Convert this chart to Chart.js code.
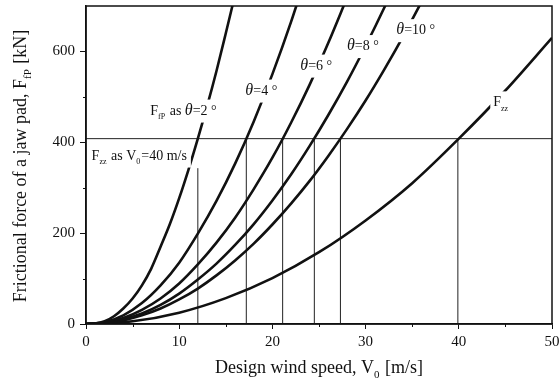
<!DOCTYPE html>
<html>
<head>
<meta charset="utf-8">
<script src="https://cdn.jsdelivr.net/npm/chart.js@4/dist/chart.umd.min.js"></script>
<style>
  html, body { margin: 0; padding: 0; background: #fff; }
  #wrap { width: 560px; height: 385px; }
</style>
</head>
<body>
<div id="wrap"><canvas id="chart" width="560" height="385"></canvas></div>
<script>
// Design wind speed V0 [m/s] and frictional force F [kN]
const speed2 = [0, 1, 2, 3, 4, 5, 6, 7, 8, 9, 10, 11, 12, 13, 14, 15, 16];
const force2 = [0, 1, 6, 17, 34, 56, 85, 122, 170, 220, 277, 340, 408, 480, 557, 640, 725];

const speed4 = [0, 2, 4, 6, 8, 10, 12, 14, 16, 18, 20, 22, 24];
const force4 = [0, 4, 19, 46, 85, 135, 199, 271, 353, 446, 550, 665, 792];

const speed6 = [0, 2, 4, 6, 8, 10, 12, 14, 16, 18, 20, 22, 24, 26, 28];
const force6 = [0, 3, 13, 31, 56, 89, 131, 179, 234, 297, 366, 443, 527, 619, 718];

const speed8 = [0, 2, 4, 6, 8, 10, 12, 14, 16, 18, 20, 22, 24, 26, 28, 30, 32, 34];
const force8 = [0, 2, 10, 23, 42, 67, 98, 133, 174, 220, 272, 329, 392, 460, 533, 612, 696, 786];

const speed10 = [0, 2, 4, 6, 8, 10, 12, 14, 16, 18, 20, 22, 24, 26, 28, 30, 32, 34, 36];
const force10 = [0, 2, 8, 19, 34, 54, 78, 107, 140, 177, 219, 265, 315, 370, 429, 492, 560, 632, 709];

const speedZZ = [0, 5, 10, 15, 20, 25, 30, 35, 40, 45, 50];
const forceZZ = [0, 6, 25, 57, 101, 158, 228, 310, 408, 514, 630];

// F_zz at V0 = 40 m/s, and the speeds where each curve reaches it
const limitForce = 408;
const limitSpeeds = [12.0, 17.2, 21.1, 24.5, 27.3, 39.9];
const limitTops = [343, 408, 408, 408, 408, 408];

const xTicks = [0, 10, 20, 30, 40, 50];
const yTicks = [0, 200, 400, 600];

const SERIF = '"Liberation Serif", "DejaVu Serif", serif';

function pts(xs, ys) {
    return xs.map((x, i) => ({ x: x, y: ys[i] }));
}

function curve(xs, ys) {
    return {
        data: pts(xs, ys),
        borderColor: '#111',
        borderWidth: 2.6,
        pointRadius: 0,
        showLine: true,
        cubicInterpolationMode: 'monotone',
        fill: false
    };
}

function thinLine(data) {
    return {
        data: data,
        borderColor: '#222',
        borderWidth: 1,
        pointRadius: 0,
        showLine: true,
        fill: false
    };
}

const datasets = [
    curve(speed2, force2),
    curve(speed4, force4),
    curve(speed6, force6),
    curve(speed8, force8),
    curve(speed10, force10),
    curve(speedZZ, forceZZ),
    thinLine([{ x: 0, y: limitForce }, { x: 50, y: limitForce }])
];
limitSpeeds.forEach((s, i) => {
    datasets.push(thinLine([{ x: s, y: 0 }, { x: s, y: limitTops[i] }]));
});

// Text pieces: [text, kind] where kind is '', 'sub' or 'it'
const TH = ['\u03b8', 'it'];
const notes = [
    { x: 6.9, y: 461, parts: [['F', ''], ['fP', 'sub'], [' as ', ''], TH, ['=2 \u00b0', '']] },
    { x: 0.6, y: 362, parts: [['F', ''], ['zz', 'sub'], [' as V', ''], ['0', 'sub'], ['=40 m/s', '']] },
    { x: 17.1, y: 505, parts: [TH, ['=4 \u00b0', '']] },
    { x: 23.0, y: 560, parts: [TH, ['=6 \u00b0', '']] },
    { x: 28.0, y: 603, parts: [TH, ['=8 \u00b0', '']] },
    { x: 33.3, y: 638, parts: [TH, ['=10 \u00b0', '']] },
    { x: 43.7, y: 479, parts: [['F', ''], ['zz', 'sub']] }
];

function fontFor(kind, size) {
    if (kind === 'sub') return Math.round(size * 0.6) + 'px ' + SERIF;
    if (kind === 'it') return 'italic ' + (size + 2) + 'px ' + SERIF;
    return size + 'px ' + SERIF;
}

function richWidth(ctx, parts, size) {
    let w = 0;
    parts.forEach(p => {
        ctx.font = fontFor(p[1], size);
        w += ctx.measureText(p[0]).width + (p[1] === 'sub' ? 1 : 0);
    });
    return w;
}

function drawRich(ctx, parts, x, y, size) {
    let cx = x;
    ctx.textBaseline = 'alphabetic';
    ctx.textAlign = 'left';
    parts.forEach(p => {
        ctx.font = fontFor(p[1], size);
        const dy = p[1] === 'sub' ? size * 0.3 : 0;
        ctx.fillText(p[0], cx, y + dy);
        cx += ctx.measureText(p[0]).width + (p[1] === 'sub' ? 1 : 0);
    });
    return cx - x;
}

const decorPlugin = {
    id: 'decor',
    afterDatasetsDraw(chart) {
        const ctx = chart.ctx;
        const xs = chart.scales.x;
        const ys = chart.scales.y;
        const a = chart.chartArea;
        ctx.save();

        // labels on white boxes that break the curves
        const size = 14;
        notes.forEach(n => {
            const px = xs.getPixelForValue(n.x);
            const py = ys.getPixelForValue(n.y);
            const w = richWidth(ctx, n.parts, size);
            ctx.fillStyle = '#fff';
            ctx.fillRect(px - 3, py - 15, w + 7, 23);
            ctx.fillStyle = '#111';
            drawRich(ctx, n.parts, px, py, size);
        });

        // frame
        ctx.strokeStyle = '#111';
        ctx.lineWidth = 1.5;
        ctx.strokeRect(a.left, a.top, a.right - a.left, a.bottom - a.top);

        // minor ticks
        ctx.lineWidth = 1;
        ctx.beginPath();
        [5, 15, 25, 35, 45].forEach(v => {
            const px = Math.round(xs.getPixelForValue(v)) + 0.5;
            ctx.moveTo(px, a.bottom);
            ctx.lineTo(px, a.bottom + 3);
        });
        [100, 300, 500].forEach(v => {
            const py = Math.round(ys.getPixelForValue(v)) + 0.5;
            ctx.moveTo(a.left, py);
            ctx.lineTo(a.left - 3, py);
        });
        ctx.stroke();

        // axis titles
        ctx.fillStyle = '#111';
        const tsize = 18;
        const xParts = [['Design wind speed, V', ''], ['0', 'sub'], [' [m/s]', '']];
        const xw = richWidth(ctx, xParts, tsize);
        drawRich(ctx, xParts, (a.left + a.right) / 2 - xw / 2, 373, tsize);

        const yParts = [['Frictional force of a jaw pad, F', ''], ['fP', 'sub'], [' [kN]', '']];
        const yw = richWidth(ctx, yParts, tsize);
        ctx.translate(26, 166);
        ctx.rotate(-Math.PI / 2);
        drawRich(ctx, yParts, -yw / 2, 0, tsize);
        ctx.restore();
    }
};

new Chart(document.getElementById('chart'), {
    type: 'scatter',
    data: { datasets: datasets },
    plugins: [decorPlugin],
    options: {
        responsive: false,
        animation: false,
        layout: { padding: { top: 0, right: 0, left: 0, bottom: 0 } },
        plugins: {
            legend: { display: false },
            tooltip: { enabled: false }
        },
        scales: {
            x: {
                type: 'linear',
                min: 0,
                max: 50,
                afterFit: scale => {
                    scale.height = 61;
                    scale.paddingRight = 8;
                },
                afterBuildTicks: scale => { scale.ticks = xTicks.map(v => ({ value: v })); },
                ticks: {
                    color: '#111',
                    font: { family: SERIF, size: 15 },
                    padding: 4,
                    maxRotation: 0
                },
                grid: { display: true, drawOnChartArea: false, tickLength: 5, color: '#111' },
                border: { color: '#111', width: 1.5 }
            },
            y: {
                type: 'linear',
                min: 0,
                max: 700,
                afterFit: scale => {
                    scale.width = 86;
                    scale.paddingTop = 6;
                },
                afterBuildTicks: scale => { scale.ticks = yTicks.map(v => ({ value: v })); },
                ticks: {
                    color: '#111',
                    font: { family: SERIF, size: 15 },
                    padding: 5
                },
                grid: { display: true, drawOnChartArea: false, tickLength: 6, color: '#111' },
                border: { color: '#111', width: 1.5 }
            }
        }
    }
});
</script>
</body>
</html>
